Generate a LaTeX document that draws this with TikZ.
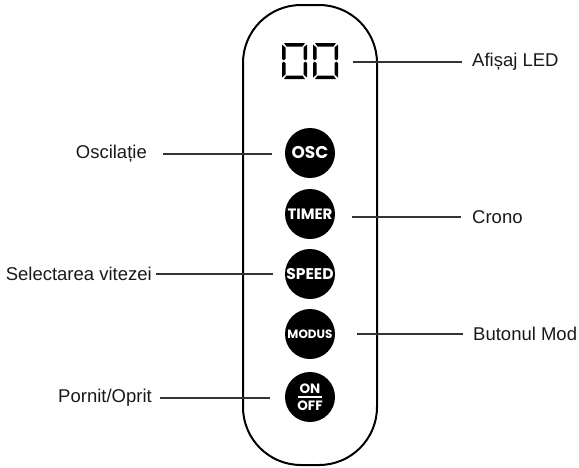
\documentclass[tikz,border=0pt]{standalone}
\usepackage{fontspec}
\setmainfont{Liberation Sans}
\newfontfamily\btnfont{Poppins}
\tikzset{
  lbl/.style={font=\fontsize{18.5}{20}\selectfont, text=black!90, inner sep=0pt},
  lead/.style={draw=black!80, line width=1.3pt},
  btn/.style={circle, fill=black, minimum size=50pt, inner sep=0pt, text=white},
  seg/.style={fill=black, draw=none},
  digitzero/.pic={
    \fill[seg] (2,0)--(23,0)--(20.5,3.5)--(4.5,3.5)--cycle;
    \fill[seg] (2,36)--(23,36)--(20.5,32.5)--(4.5,32.5)--cycle;
    \fill[seg] (0,1.5)--(3.5,4.5)--(3.5,15.8)--(1.75,17.3)--(0,16)--cycle;
    \fill[seg] (0,20)--(1.75,18.7)--(3.5,20.2)--(3.5,31.5)--(0,34.5)--cycle;
    \fill[seg] (25,1.5)--(21.5,4.5)--(21.5,15.8)--(23.25,17.3)--(25,16)--cycle;
    \fill[seg] (25,20)--(23.25,18.7)--(21.5,20.2)--(21.5,31.5)--(25,34.5)--cycle;
  }
}
\begin{document}
\begin{tikzpicture}[x=1pt,y=-1pt]
\useasboundingbox (0,0) rectangle (579,467);
% body
\draw[line width=2pt, rounded corners=58pt] (243,5) rectangle (377,465);
% LED digits
\pic at (282,43) {digitzero};
\pic at (313,43) {digitzero};
% buttons
\node[btn] (osc) at (310,153) {\btnfont\bfseries\fontsize{17}{17}\selectfont OSC};
\node[btn] (timer) at (310,214) {\btnfont\bfseries\fontsize{15}{15}\selectfont TIMER};
\node[btn] (speed) at (310,274) {\btnfont\bfseries\fontsize{15.5}{15.5}\selectfont SPEED};
\node[btn] (modus) at (310,334) {\btnfont\bfseries\fontsize{12}{12}\selectfont MODUS};
\node[btn] (onoff) at (310,397) {};
\node[text=white, inner sep=0pt] (on) at (310,389) {\btnfont\bfseries\fontsize{13.5}{13.5}\selectfont ON};
\node[text=white, inner sep=0pt] (off) at (310,406) {\btnfont\bfseries\fontsize{13.5}{13.5}\selectfont OFF};
\fill[white] (298,395.8) rectangle (322,397.8);
% labels
\node[lbl, anchor=east] (l1) at (147,154) {Oscilație};
\node[lbl, anchor=east] (l2) at (152,274) {Selectarea vitezei};
\node[lbl, anchor=east] (l3) at (152,398) {Pornit/Oprit};
\node[lbl, anchor=west] (r1) at (472,62) {Afișaj LED};
\node[lbl, anchor=west] (r2) at (472,217) {Crono};
\node[lbl, anchor=west] (r3) at (473,334) {Butonul Mod};
% leader coordinates
\coordinate (a1) at (163,154); \coordinate (b1) at (272,154);
\coordinate (a2) at (156,274); \coordinate (b2) at (273,274);
\coordinate (a3) at (160,398); \coordinate (b3) at (270,398);
\coordinate (c1) at (353,62);  \coordinate (d1) at (462,62);
\coordinate (c2) at (352,217); \coordinate (d2) at (461,217);
\coordinate (c3) at (357,334); \coordinate (d3) at (463,334);
\draw[lead] (a1) -- (b1);
\draw[lead] (a2) -- (b2);
\draw[lead] (a3) -- (b3);
\draw[lead] (c1) -- (d1);
\draw[lead] (c2) -- (d2);
\draw[lead] (c3) -- (d3);
\end{tikzpicture}
\end{document}
